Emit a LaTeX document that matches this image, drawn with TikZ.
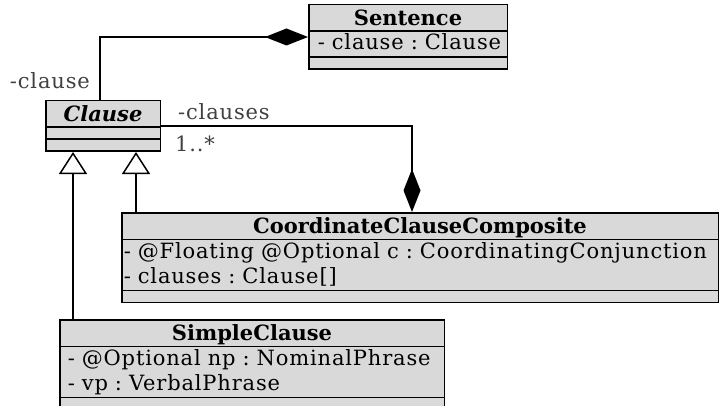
\documentclass[tikz,border=0pt]{standalone}
\usepackage{fontspec}
\setmainfont{DejaVu Serif}[UprightFeatures={LetterSpace=4}]
\usepackage{xcolor}
\colorlet{colorClass}{black!15}
\colorlet{colorRole}{black!75}
\usetikzlibrary{arrows.meta, shapes.multipart, positioning}
\frenchspacing
\newcommand{\rowstrut}{\rule[-6.5pt]{0pt}{24.5pt}}
\newcommand{\titlestrut}{\rule[-5pt]{0pt}{25pt}}
\newcommand{\emptyrow}{\rule{0pt}{10.5pt}}
\newcommand{\classtitle}[1]{\titlestrut\hfill\textbf{#1}\hfill\null}
\newcommand{\attr}[1]{\rowstrut\mbox{#1}}
\tikzset{umlclass/.style={rectangle split, rectangle split parts=3, draw, line width=1.5pt, fill=colorClass, inner xsep=2pt, inner ysep=0pt, align=left, anchor=north west, font=\fontsize{21}{25}\selectfont}}

\begin{document}
\begin{tikzpicture}[x=1pt, y=1pt, compose/.style={line width=1.5pt, -{Diamond[length=43pt, width=17pt]}}, inherit/.style={line width=1.5pt, -{Triangle[open, length=22pt, width=28pt, line width=1.5pt]}}, role/.style={inner sep=0pt, text=colorRole, font=\fontsize{21}{25}\selectfont}]
\useasboundingbox (0,0) rectangle (719,-406);
\node[umlclass, inner xsep=9pt, text width=180.5pt] (sentence) at (308,-4) {\classtitle{Sentence}\nodepart{two}\attr{- clause : Clause}\nodepart{three}\emptyrow};
\node[umlclass, text width=110.5pt] (clause) at (45,-100) {\titlestrut\hfill\textbf{\textit{Clause}}\hfill\null\nodepart{two}\emptyrow\nodepart{three}\emptyrow};
\node[umlclass, text width=592.5pt] (ccc) at (121,-212) {\classtitle{CoordinateClauseComposite}\nodepart{two}\attr{- @Floating @Optional c : CoordinatingConjunction}\\\attr{- clauses : Clause[]}\nodepart{three}\emptyrow};
\node[umlclass, inner xsep=8pt, text width=368.5pt] (simple) at (59,-319) {\classtitle{SimpleClause}\nodepart{two}\attr{- @Optional np : NominalPhrase}\\\attr{- vp : VerbalPhrase}\nodepart{three}\emptyrow};
\coordinate (g1) at ([xshift=28pt]clause.south west);
\coordinate (g2) at ([xshift=91pt]clause.south west);
\draw[compose] ([xshift=-3pt]clause.north) |- (sentence.west);
\draw[compose] (clause.east) -| ([xshift=-8pt]ccc.north);
\draw[inherit] (simple.north -| g1) -- (g1);
\draw[inherit] (ccc.north -| g2) -- (g2);
\node[role, anchor=base east] (lclause) at ([xshift=-13pt, yshift=11pt]clause.north) {-clause};
\node[role, anchor=base west] (lclauses) at ([xshift=17pt, yshift=6pt]clause.east) {-clauses};
\node[role, anchor=base west] (lmult) at ([xshift=14pt, yshift=-26pt]clause.east) {1..*};
\end{tikzpicture}
\end{document}
